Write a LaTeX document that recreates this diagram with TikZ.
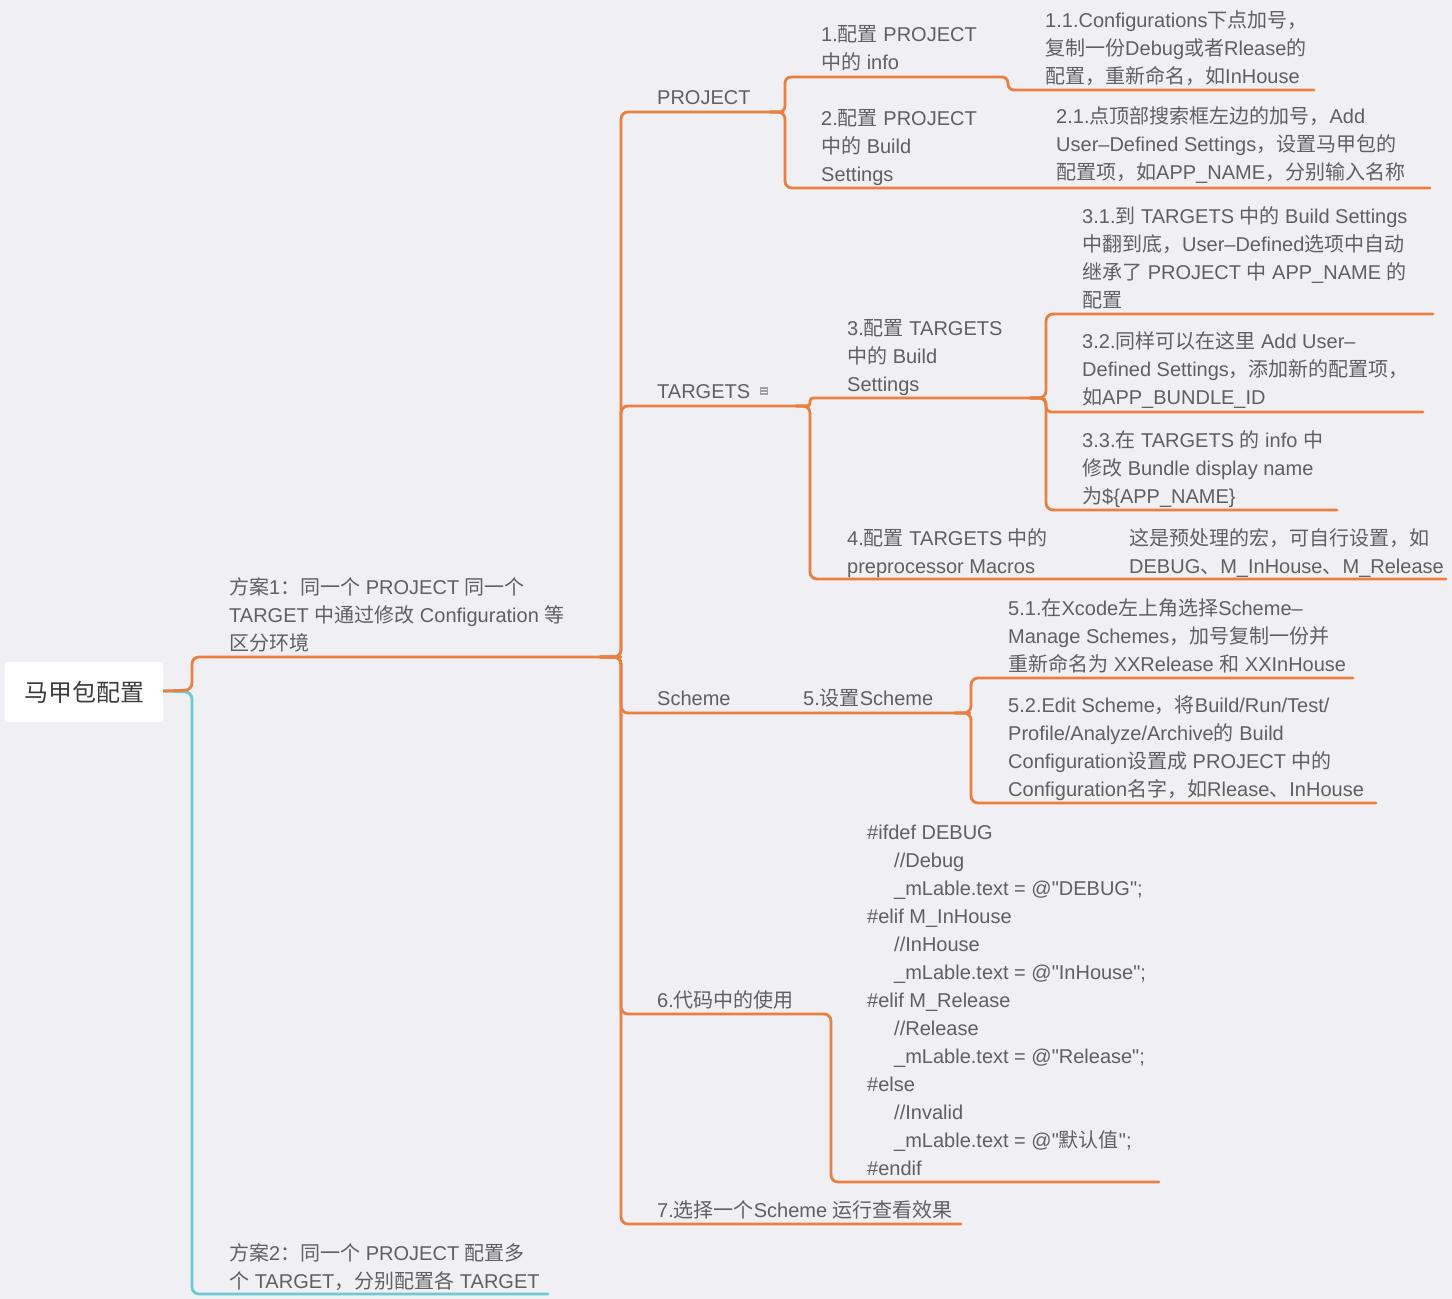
\documentclass[tikz,border=0pt]{standalone}
\usepackage{fontspec}
\setmainfont{Liberation Sans}[Ligatures=TeXOff]
\newfontfamily\cjkfont{Noto Sans CJK SC}
\XeTeXinterchartokenstate=1
\newXeTeXintercharclass\CJKcls
\count255="3000
\loop\XeTeXcharclass\count255=\CJKcls\ifnum\count255<"9FFF\advance\count255 by 1\repeat
\count255="FF00
\loop\XeTeXcharclass\count255=\CJKcls\ifnum\count255<"FFEF\advance\count255 by 1\repeat
\XeTeXinterchartoks 0 \CJKcls={\begingroup\cjkfont}
\XeTeXinterchartoks 4095 \CJKcls={\begingroup\cjkfont}
\XeTeXinterchartoks \CJKcls 0={\endgroup}
\XeTeXinterchartoks \CJKcls 4095={\endgroup}
\definecolor{bgc}{RGB}{239,239,244}
\definecolor{brc}{RGB}{234,128,64}
\definecolor{tlc}{RGB}{108,202,210}
\definecolor{txtc}{RGB}{96,96,96}
\definecolor{rootc}{RGB}{60,60,60}
\definecolor{notec}{RGB}{160,160,165}
\newcommand\mlines[1]{\begin{tabular}[t]{@{}l@{}}#1\end{tabular}}
\begin{document}
\begin{tikzpicture}[x=1pt,y=-1pt,
  txt/.style={anchor=base west,inner sep=0pt,text=txtc,font=\fontsize{20}{28}\selectfont},
  br/.style={draw=brc,line width=2.8pt,rounded corners=7pt,line cap=round},
  tl/.style={draw=tlc,line width=2.8pt,rounded corners=7pt,line cap=round}]
\fill[bgc] (0,0) rectangle (1452,1299);
\useasboundingbox (0,0) rectangle (1452,1299);

% junction coordinates
\coordinate (rootR) at (163,691);
\coordinate (J0) at (621,657);
\coordinate (Jp) at (785,112);
\coordinate (Jt) at (810,406);
\coordinate (J3) at (1046,398);
\coordinate (J5) at (971,713);

% connectors
\draw[tl] (rootR) -- (192,692) -- (192,1294) -- (548,1294);
\draw[br] (rootR) -- (192,690) -- (192,657) -- (J0);
\draw[br] (600,657) -- (J0) -- (621,112) -- (783,112);
\draw[br] (600,657) -- (J0) -- (621,406) -- (809,406);
\draw[br] (600,657) -- (J0) -- (621,713) -- (970,713);
\draw[br] (600,657) -- (J0) -- (621,1014) -- (831,1014) -- (831,1182) -- (1159,1182);
\draw[br] (600,657) -- (J0) -- (621,1224) -- (961,1224);
% PROJECT children
\draw[br,rounded corners=6pt] (770,112) -- (Jp) -- (785,77) -- (1008,77) -- (1008,90) -- (1314,90);
\draw[br] (770,112) -- (Jp) -- (785,188) -- (1430,188);
% TARGETS children
\draw[br,rounded corners=3pt] (796,406) -- (Jt) -- (810,398) -- (1043,398);
\draw[br] (796,406) -- (Jt) -- (810,579) -- (1446,579);
% 3 children
\draw[br] (1030,398) -- (J3) -- (1046,314) -- (1433,314);
\draw[br,rounded corners=5pt] (1030,398) -- (J3) -- (1046,412) -- (1423,412);
\draw[br] (1030,398) -- (J3) -- (1046,510) -- (1337,510);
% 5 children
\draw[br] (955,713) -- (J5) -- (971,678) -- (1353,678);
\draw[br] (955,713) -- (J5) -- (971,803) -- (1376,803);

% root
\node[fill=white,minimum width=158pt,minimum height=60pt,inner sep=0pt,text=rootc,font=\fontsize{24}{28}\selectfont] (root) at (84,692) {马甲包配置};

% texts
\node[txt] (fa1) at (229,594) {\mlines{方案1：同一个 PROJECT 同一个\\TARGET 中通过修改 Configuration 等\\区分环境}};
\node[txt] (fa2) at (229,1260) {\mlines{方案2：同一个 PROJECT 配置多\\个 TARGET，分别配置各 TARGET}};

\node[txt] (proj) at (657,104) {PROJECT};
\node[txt] (p1) at (821,41) {\mlines{1.配置 PROJECT\\中的 info}};
\node[txt] (p11) at (1045,27) {\mlines{1.1.Configurations下点加号，\\复制一份Debug或者Rlease的\\配置，重新命名，如InHouse}};
\node[txt] (p2) at (821,125) {\mlines{2.配置 PROJECT\\中的 Build\\Settings}};
\node[txt] (p21) at (1056,123) {\mlines{2.1.点顶部搜索框左边的加号，Add\\User–Defined Settings，设置马甲包的\\配置项，如APP\_NAME，分别输入名称}};

\node[txt] (tgt) at (657,398) {TARGETS};
\fill[notec] (760,387) rectangle (768,395);
\draw[white,line width=0.8pt] (761,389.5) -- (767,389.5) (761,392) -- (767,392);
\node[txt] (t3) at (847,335) {\mlines{3.配置 TARGETS\\中的 Build\\Settings}};
\node[txt] (t31) at (1082,223) {\mlines{3.1.到 TARGETS 中的 Build Settings\\中翻到底，User–Defined选项中自动\\继承了 PROJECT 中 APP\_NAME 的\\配置}};
\node[txt] (t32) at (1082,348) {\mlines{3.2.同样可以在这里 Add User–\\Defined Settings，添加新的配置项，\\如APP\_BUNDLE\_ID}};
\node[txt] (t33) at (1082,447) {\mlines{3.3.在 TARGETS 的 info 中\\修改 Bundle display name\\为\$\{APP\_NAME\}}};
\node[txt] (t4) at (847,545) {\mlines{4.配置 TARGETS 中的\\preprocessor Macros}};
\node[txt] (t41) at (1129,545) {\mlines{这是预处理的宏，可自行设置，如\\DEBUG、M\_InHouse、M\_Release}};

\node[txt] (sch) at (657,705) {Scheme};
\node[txt] (s5) at (803,705) {5.设置Scheme};
\node[txt] (s51) at (1008,615) {\mlines{5.1.在Xcode左上角选择Scheme–\\Manage Schemes，加号复制一份并\\重新命名为 XXRelease 和 XXInHouse}};
\node[txt] (s52) at (1008,712) {\mlines{5.2.Edit Scheme，将Build/Run/Test/\\Profile/Analyze/Archive的 Build\\Configuration设置成 PROJECT 中的\\Configuration名字，如Rlease、InHouse}};

\node[txt] (c6) at (657,1007) {6.代码中的使用};
\node[txt] (code) at (867,839) {\mlines{\#ifdef DEBUG\\
\hspace*{27pt}//Debug\\
\hspace*{27pt}\_mLable.text = @"DEBUG";\\
\#elif M\_InHouse\\
\hspace*{27pt}//InHouse\\
\hspace*{27pt}\_mLable.text = @"InHouse";\\
\#elif M\_Release\\
\hspace*{27pt}//Release\\
\hspace*{27pt}\_mLable.text = @"Release";\\
\#else\\
\hspace*{27pt}//Invalid\\
\hspace*{27pt}\_mLable.text = @"默认值";\\
\#endif}};
\node[txt] (c7) at (657,1217) {7.选择一个Scheme 运行查看效果};
\end{tikzpicture}
\end{document}
